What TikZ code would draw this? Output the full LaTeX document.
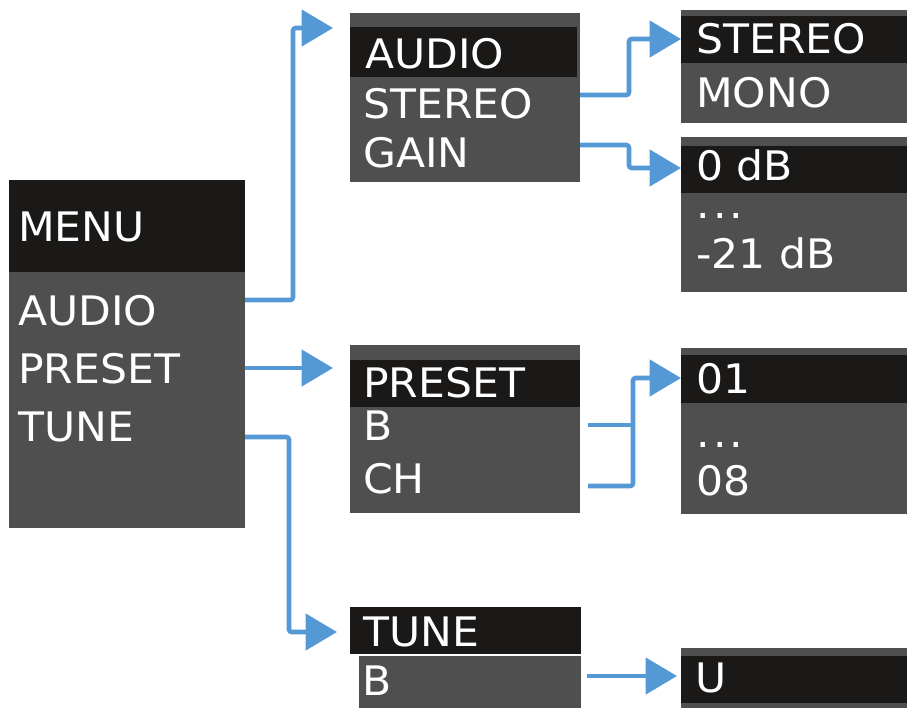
\documentclass[tikz,border=0pt]{standalone}
\usepackage{fontspec}
\setmainfont{DejaVu Sans}[FakeStretch=1.045]
\usetikzlibrary{arrows.meta,calc}
\definecolor{bandblack}{HTML}{1A1917}
\definecolor{boxgray}{HTML}{4F4F4F}
\definecolor{linkblue}{HTML}{5598D6}
\tikzset{
  box/.style={fill=boxgray, inner sep=0pt, outer sep=0pt, anchor=north west},
  band/.style={fill=bandblack, inner sep=0pt, outer sep=0pt, anchor=north west},
  txt/.style={text=white, inner sep=0pt, anchor=base west, font=\fontsize{30.5}{36}\selectfont},
  conn/.style={draw=linkblue, line width=3.4pt, rounded corners=2pt,
    -{Triangle[length=23.5pt, width=27pt]}},
  plainconn/.style={draw=linkblue, line width=3.4pt, rounded corners=2pt}
}
\newcommand{\bx}[6]{\node[#1, minimum width={(#5-#3)*0.75pt}, minimum height={(#6-#4)*0.75pt}] (#2) at (#3,#4) {};}
\begin{document}
\begin{tikzpicture}[x=0.75pt, y=-0.75pt]
\useasboundingbox (0,0) rectangle (907,708);
% boxes
\bx{box}{menu}{9}{180}{245}{528}
\bx{band}{menuband}{9}{180}{245}{272}
\bx{box}{asub}{350}{13}{580}{182}
\bx{band}{asubband}{350}{27}{577}{77}
\bx{box}{stbox}{681}{10}{907}{123}
\bx{band}{stband}{681}{16}{907}{63}
\bx{box}{gainbox}{681}{137}{907}{292}
\bx{band}{gainband}{681}{146}{907}{193}
\bx{box}{psub}{350}{345}{580}{513}
\bx{band}{psubband}{350}{360}{580}{407}
\bx{box}{chbox}{681}{348}{907}{514}
\bx{band}{chband}{681}{355}{907}{403}
\bx{band}{tune}{350}{607}{581}{654}
\bx{box}{tuneb}{359}{656}{581}{708}
\bx{box}{ubox}{681}{648}{907}{708}
\bx{band}{uband}{681}{656}{907}{703}
% texts
\node[txt] (tmenu) at (18,241) {MENU};
\node[txt] (taudio) at (18,325) {AUDIO};
\node[txt] (tpreset) at (18,383) {PRESET};
\node[txt] (ttune) at (18,441) {TUNE};
\node[txt] (saudio) at (365,68) {AUDIO};
\node[txt] (sstereo) at (363,118) {STEREO};
\node[txt] (sgain) at (363,167) {GAIN};
\node[txt] (ostereo) at (696,53) {STEREO};
\node[txt] (omono) at (696,107) {MONO};
\node[txt] (g0) at (696,180) {0 dB};
\node[txt] (gdots) at (696,218) {.\hspace{2.5pt}.\hspace{2.5pt}.};
\node[txt] (g21) at (696,268) {-21 dB};
\node[txt] (ppreset) at (363,397) {PRESET};
\node[txt] (pb) at (363,440) {B};
\node[txt] (pch) at (363,493) {CH};
\node[txt] (c01) at (696,393) {01};
\node[txt] (cdots) at (696,447) {.\hspace{2.5pt}.\hspace{2.5pt}.};
\node[txt] (c08) at (696,495) {08};
\node[txt] (ttitle) at (363,646) {TUNE};
\node[txt] (tb) at (362,695) {B};
\node[txt] (tu) at (695,692) {U};
% connectors
\draw[conn, shorten >=12.75pt] (menu.east |- 0,300) -| (293,28) -- (asub.west |- 0,28);
\draw[conn, shorten >=12.75pt] (menu.east |- 0,368) -- (psub.west |- 0,368);
\draw[conn, shorten >=9.75pt] (menu.east |- 0,437) -| (289,632) -- (tune.west |- 0,632);
\draw[conn] (asub.east |- 0,95) -| (629,39) -- (stbox.west |- 0,39);
\draw[conn] (asub.east |- 0,145) -| (629,168) -- (gainbox.west |- 0,168);
\draw[plainconn, shorten <=6pt] (psub.east |- 0,425) -- (633,425);
\draw[conn, shorten <=6pt] (psub.east |- 0,486) -| (633,378) -- (chbox.west |- 0,378);
\draw[conn, shorten <=4.5pt, shorten >=3pt] (tuneb.east |- 0,676) -- (ubox.west |- 0,676);
\end{tikzpicture}
\end{document}
